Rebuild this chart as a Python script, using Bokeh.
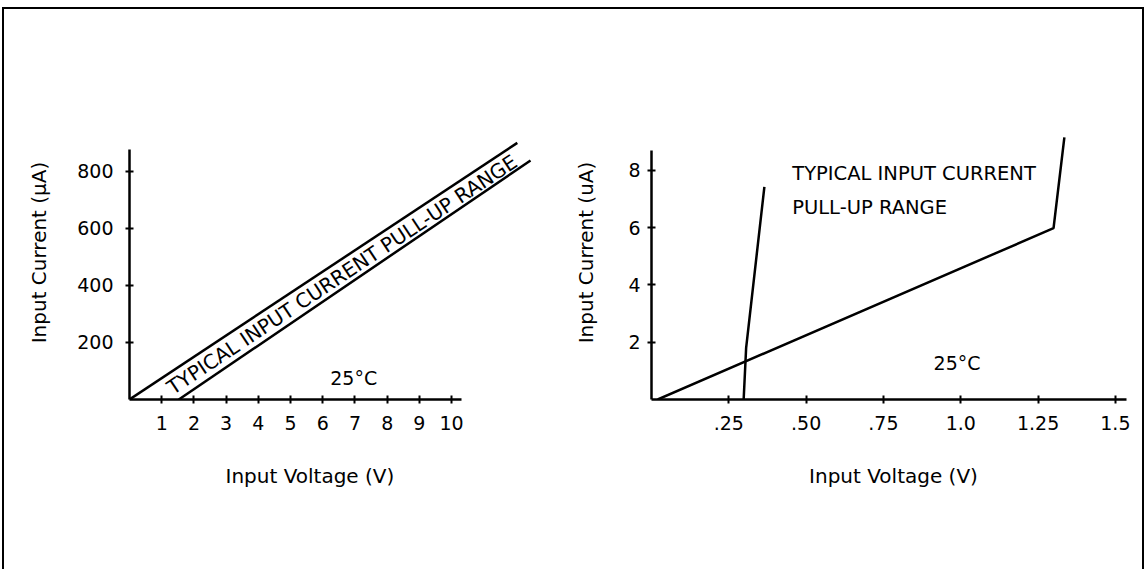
from bokeh.plotting import figure
from bokeh.models import Range1d, FixedTicker, Title
from bokeh.layouts import row
from bokeh.core.properties import value
from bokeh.embed import file_html
from bokeh.resources import INLINE

FONT = "DejaVu Sans"

# ---------------- data ----------------
# Left chart: input current (uA) vs input voltage (V), 0..10 V
left_upper_x = [0.0, 12.04]
left_upper_y = [0.0, 900.0]
left_lower_x = [1.53, 12.45]
left_lower_y = [0.0, 838.0]
left_xticks = [1, 2, 3, 4, 5, 6, 7, 8, 9, 10]
left_yticks = [200, 400, 600, 800]

# Right chart: input current (uA) vs input voltage (V), 0..1.5 V
right_a_x = [0.02, 1.30, 1.335]
right_a_y = [0.0, 5.98, 9.15]
right_b_x = [0.298, 0.306, 0.365]
right_b_y = [0.0, 1.8, 7.42]
right_xticks = [0.25, 0.5, 0.75, 1.0, 1.25, 1.5]
right_xtick_labels = [".25", ".50", ".75", "1.0", "1.25", "1.5"]
right_yticks = [2, 4, 6, 8]

band_label = "TYPICAL INPUT CURRENT PULL-UP RANGE"
right_label_lines = ["TYPICAL INPUT CURRENT", "PULL-UP RANGE"]
temp_label = "25\u00b0C"
x_title = "Input Voltage (V)"


def style(p, xb, yb, tick_stand_y, lab_stand_y):
    p.xgrid.visible = False
    p.ygrid.visible = False
    p.outline_line_color = None
    p.background_fill_color = "white"
    p.border_fill_color = "white"
    for ax in (p.xaxis[0], p.yaxis[0]):
        ax.axis_line_width = 2.5
        ax.axis_line_color = "black"
        ax.major_tick_in = 4
        ax.major_tick_out = 4
        ax.major_tick_line_width = 2
        ax.major_tick_line_color = "black"
        ax.minor_tick_line_color = None
        ax.major_label_text_font = FONT
        ax.major_label_text_font_size = "19px"
        ax.major_label_text_color = "black"
        ax.axis_label_text_font = FONT
        ax.axis_label_text_font_size = "20px"
        ax.axis_label_text_font_style = "normal"
        ax.axis_label_text_color = "black"
    p.xaxis[0].bounds = xb
    p.yaxis[0].bounds = yb
    p.xaxis[0].major_label_standoff = 12
    p.yaxis[0].major_label_standoff = tick_stand_y
    p.yaxis[0].axis_label_standoff = lab_stand_y


H = 560

# ---------------- left chart ----------------
p1 = figure(width=556, height=H, output_backend="svg", toolbar_location=None,
            x_range=Range1d(0, 12.76), y_range=Range1d(0, 1031),
            min_border_left=125, min_border_right=20,
            min_border_top=96, min_border_bottom=170)
style(p1, (0, 10.3), (0, 875), 12, 23)
p1.xaxis[0].ticker = FixedTicker(ticks=left_xticks)
p1.yaxis[0].ticker = FixedTicker(ticks=left_yticks)
p1.yaxis[0].axis_label = "Input Current (\u03bcA)"

p1.line(left_upper_x, left_upper_y, line_color="black", line_width=2.5)
p1.line(left_lower_x, left_lower_y, line_color="black", line_width=2.5)
p1.text(x=[6.6], y=[438], text=[band_label], angle=33.6, angle_units="deg",
        text_font=value(FONT), text_font_size="20px", text_color="black",
        text_align="center", text_baseline="middle")
p1.text(x=[6.96], y=[77], text=[temp_label], text_font=value(FONT),
        text_font_size="19px", text_color="black",
        text_align="center", text_baseline="middle")
p1.add_layout(Title(text=x_title, align="left", offset=96, standoff=59,
                    text_font=FONT, text_font_size="20px",
                    text_font_style="normal", text_color="black"), "below")

# ---------------- right chart ----------------
p2 = figure(width=582, height=H, output_backend="svg", toolbar_location=None,
            x_range=Range1d(0, 1.565), y_range=Range1d(0, 10.26),
            min_border_left=91, min_border_right=7,
            min_border_top=96, min_border_bottom=170)
style(p2, (0, 1.536), (0, 8.7), 7, 27)
p2.xaxis[0].ticker = FixedTicker(ticks=right_xticks)
p2.xaxis[0].major_label_overrides = {t: l for t, l in zip(right_xticks, right_xtick_labels)}
p2.yaxis[0].ticker = FixedTicker(ticks=right_yticks)
p2.yaxis[0].axis_label = "Input Current (uA)"
p2.xaxis[0].axis_label = x_title
p2.xaxis[0].axis_label_standoff = 31

p2.line(right_a_x, right_a_y, line_color="black", line_width=2.5)
p2.line(right_b_x, right_b_y, line_color="black", line_width=2.5)
p2.text(x=[0.455, 0.455], y=[7.89, 6.71], text=right_label_lines,
        text_font=value(FONT), text_font_size="19.5px", text_color="black",
        text_align="left", text_baseline="middle")
p2.text(x=[0.988], y=[1.26], text=[temp_label], text_font=value(FONT),
        text_font_size="19px", text_color="black",
        text_align="center", text_baseline="middle")

layout = row(p1, p2, styles={"border-top": "2px solid black",
                             "border-left": "2px solid black",
                             "border-right": "2px solid black",
                             "margin-top": "7px",
                             "margin-left": "2px"})

open("out.html", "w").write(file_html(layout, INLINE))
